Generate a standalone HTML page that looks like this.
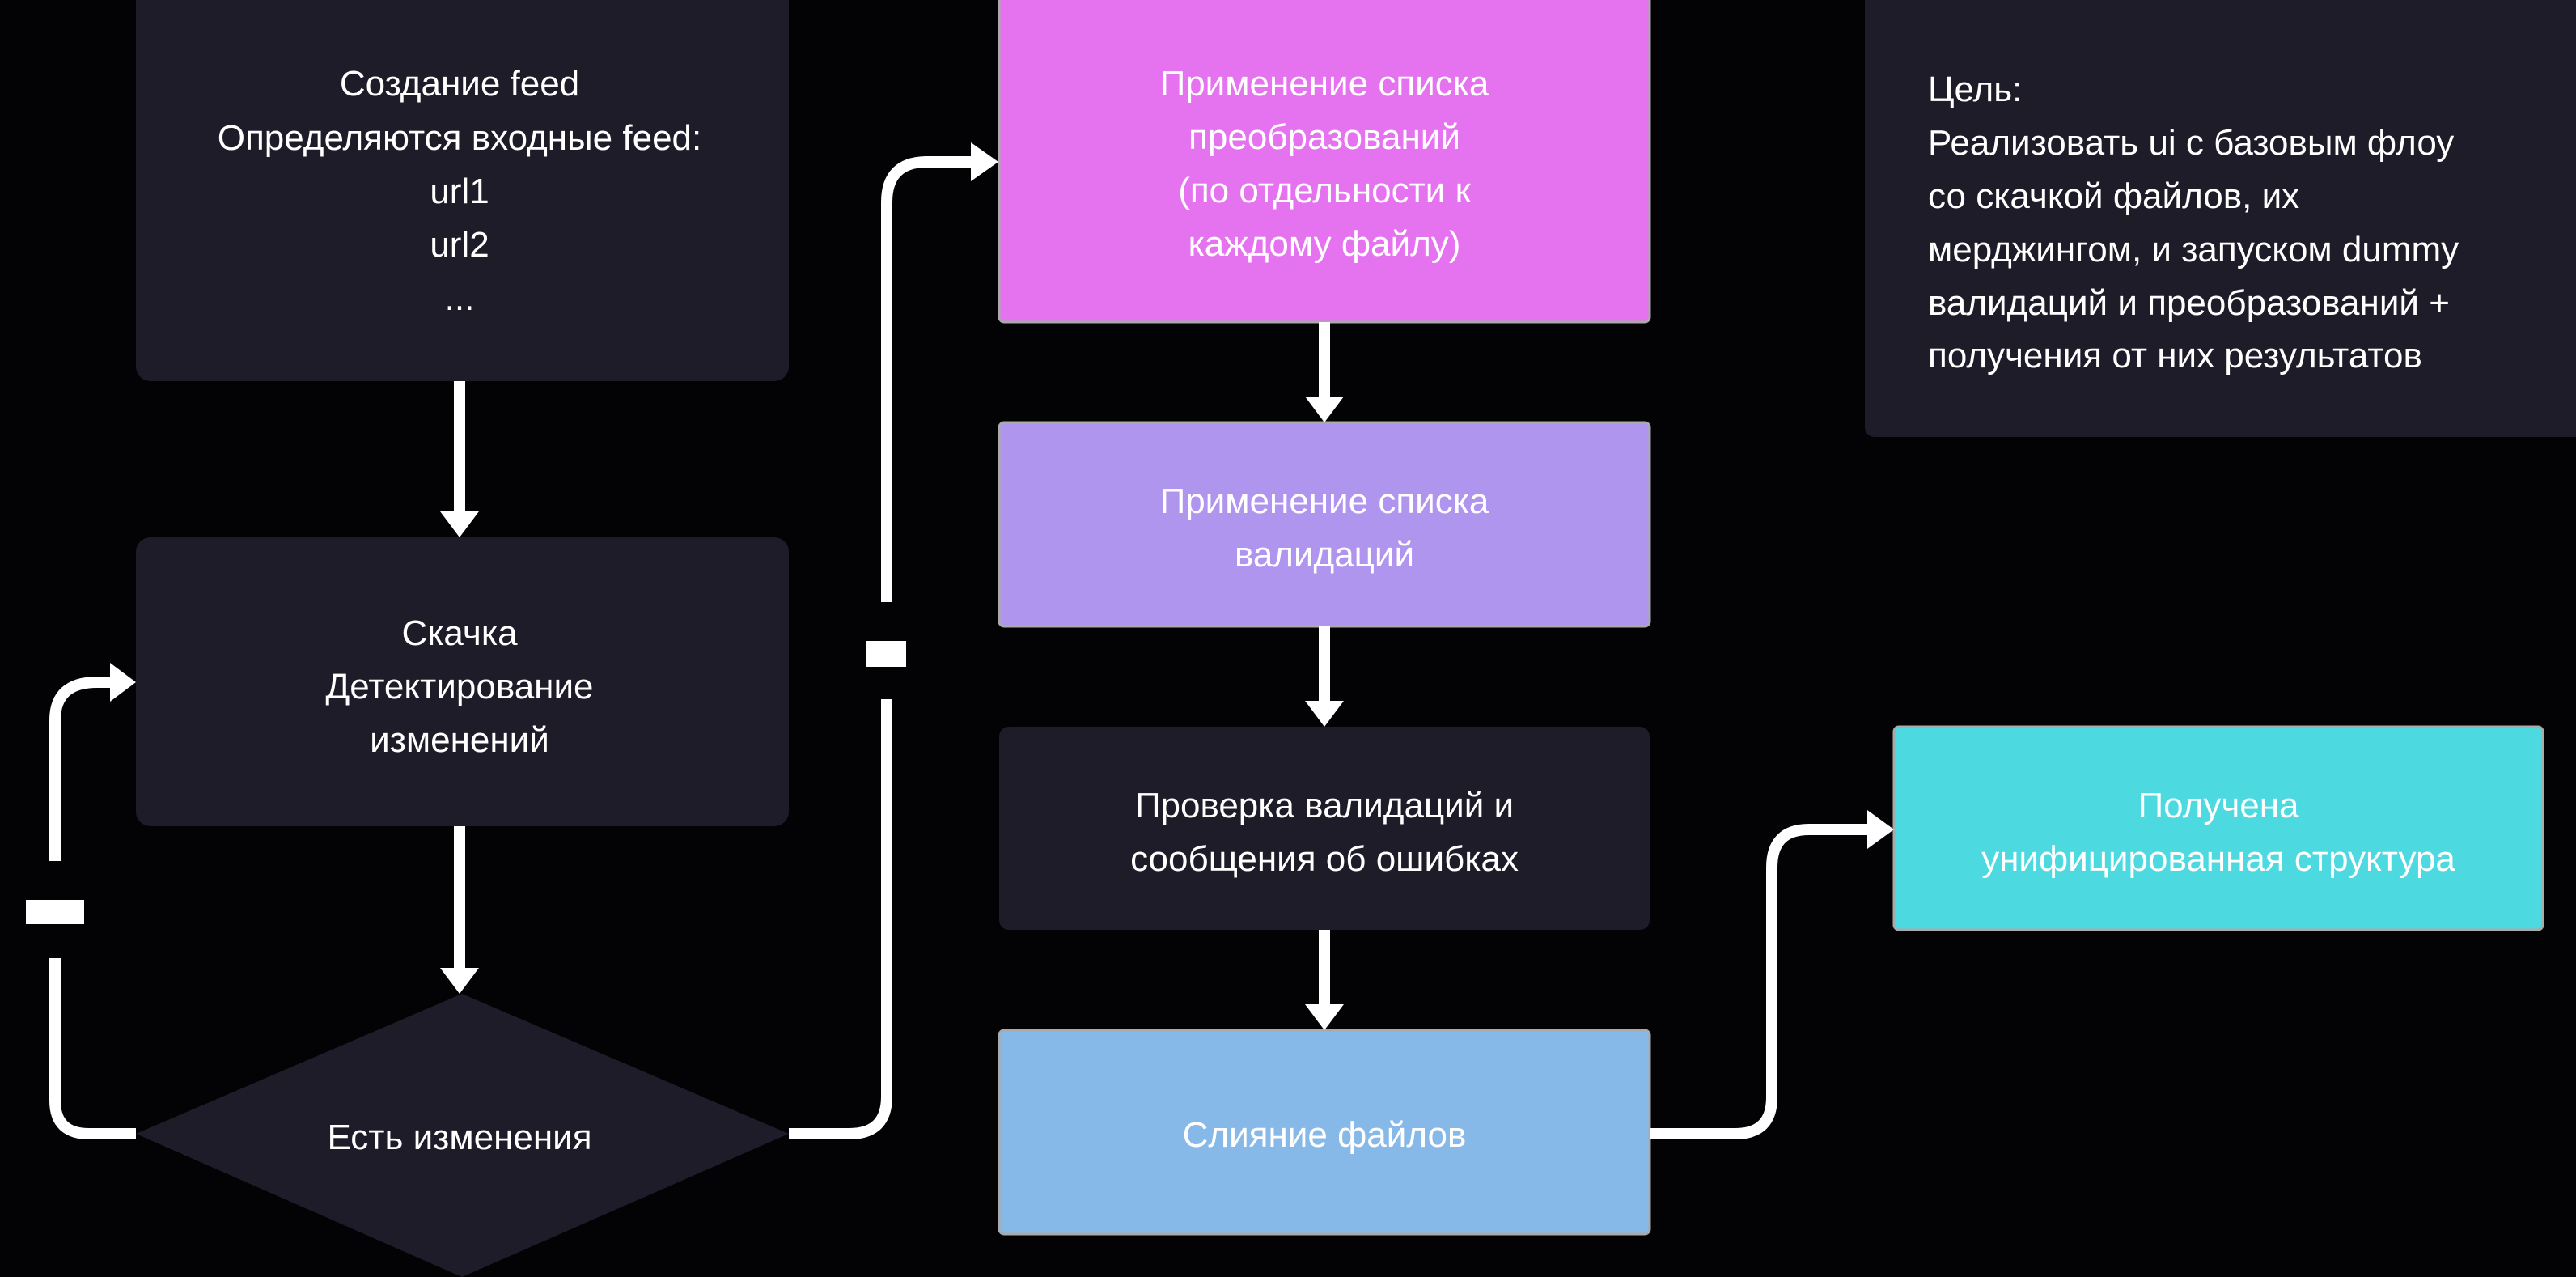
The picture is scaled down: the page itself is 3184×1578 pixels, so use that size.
<!DOCTYPE html>
<html><head><meta charset="utf-8"><style>
html,body{margin:0;padding:0;background:#000;}
svg{display:block}
text{font-family:"Liberation Sans",sans-serif;fill:#fff;font-size:44px}
</style></head><body>
<svg width="3184" height="1578" viewBox="0 0 3184 1578" xmlns="http://www.w3.org/2000/svg">
<rect width="3184" height="1578" fill="#030306"/>
<!-- boxes -->
<rect x="168" y="-30" width="807" height="501" rx="18" fill="#1e1c28"/>
<rect x="168" y="664" width="807" height="357" rx="18" fill="#1e1c28"/>
<polygon points="571,1228 975,1401 571,1578 168,1401" fill="#1e1c28"/>
<rect x="1235" y="-30" width="804" height="428" rx="6" fill="#e573ef" stroke="#aaa" stroke-width="3"/>
<rect x="1235" y="522" width="804" height="252" rx="6" fill="#b095ef" stroke="#aaa" stroke-width="3"/>
<rect x="1235" y="898" width="804" height="251" rx="12" fill="#1e1c28"/>
<rect x="1235" y="1273" width="804" height="252" rx="6" fill="#87b9e8" stroke="#aaa" stroke-width="3"/>
<rect x="2341" y="898" width="802" height="251" rx="6" fill="#4dd9e0" stroke="#aaa" stroke-width="3"/>
<rect x="2305" y="-30" width="900" height="570" rx="12" fill="#1e1c28"/>

<!-- connectors -->
<g stroke="#fff" stroke-width="14" fill="none">
<line x1="568" y1="471" x2="568" y2="640"/>
<line x1="568" y1="1021" x2="568" y2="1205"/>
<line x1="1637" y1="398" x2="1637" y2="500"/>
<line x1="1637" y1="774" x2="1637" y2="876"/>
<line x1="1637" y1="1149" x2="1637" y2="1250"/>
<path d="M975,1401 H1050 Q1096,1401 1096,1355 V864 M1096,744 V250 Q1096,200 1146,200 H1205"/>
<path d="M168,1401 H110 Q68,1401 68,1360 V1184 M68,1064 V890 Q68,843 120,843 H140"/>
<path d="M2039,1401 H2145 Q2190,1401 2190,1356 V1072 Q2190,1025 2236,1025 H2315"/>
</g>
<g fill="#fff">
<polygon points="544,632 592,632 568,664"/>
<polygon points="544,1196 592,1196 568,1228"/>
<polygon points="1613,490 1661,490 1637,522"/>
<polygon points="1613,866 1661,866 1637,898"/>
<polygon points="1613,1241 1661,1241 1637,1273"/>
<polygon points="1200,176 1234,200 1200,224"/>
<polygon points="136,819 168,843 136,867"/>
<polygon points="2308,1001 2341,1025 2308,1049"/>
<rect x="1070" y="792" width="50" height="32"/>
<rect x="32" y="1112" width="72" height="30"/>
</g>

<!-- text -->
<g text-anchor="middle">
<text x="568" y="118">Создание feed</text>
<text x="568" y="185">Определяются входные feed:</text>
<text x="568" y="251">url1</text>
<text x="568" y="317">url2</text>
<text x="568" y="383">...</text>
<text x="568" y="797">Скачка</text>
<text x="568" y="863">Детектирование</text>
<text x="568" y="929">изменений</text>
<text x="568" y="1420">Есть изменения</text>
<text x="1637" y="118">Применение списка</text>
<text x="1637" y="184">преобразований</text>
<text x="1637" y="250">(по отдельности к</text>
<text x="1637" y="316">каждому файлу)</text>
<text x="1637" y="634">Применение списка</text>
<text x="1637" y="700">валидаций</text>
<text x="1637" y="1010">Проверка валидаций и</text>
<text x="1637" y="1076">сообщения об ошибках</text>
<text x="1637" y="1417">Слияние файлов</text>
<text x="2742" y="1010">Получена</text>
<text x="2742" y="1076">унифицированная структура</text>
</g>
<g>
<text x="2383" y="125">Цель:</text>
<text x="2383" y="191">Реализовать ui с базовым флоу</text>
<text x="2383" y="257">со скачкой файлов, их</text>
<text x="2383" y="323">мерджингом, и запуском dummy</text>
<text x="2383" y="389">валидаций и преобразований +</text>
<text x="2383" y="454">получения от них результатов</text>
</g>
</svg>
</body></html>
